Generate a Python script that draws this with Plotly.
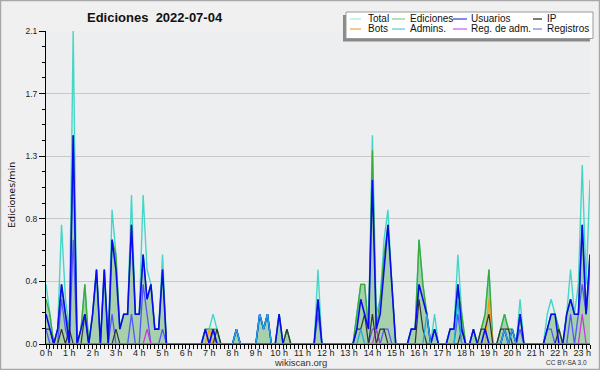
import plotly.graph_objects as go

# 10-minute slots (hours) from 00:00 to 23:20
slots = [i / 6 for i in range(141)]

total = [0.4, 0.2, 0, 0.1, 0.8, 0.3, 0.1, 2.1, 0, 0.1,
         0.4, 0, 0.2, 0.5, 0, 0.5, 0, 0.9, 0.6, 0.1,
         0.2, 0.2, 1.0, 0.2, 0.2, 1.0, 0.5, 0.4, 0.1, 0.1,
         0.6, 0, 0, 0, 0, 0, 0, 0, 0, 0,
         0, 0.1, 0.1, 0.2, 0.1, 0, 0, 0, 0, 0.1,
         0, 0, 0, 0, 0, 0.2, 0.1, 0.2, 0, 0,
         0.2, 0, 0.1, 0, 0, 0, 0, 0, 0, 0,
         0.5, 0, 0, 0, 0, 0, 0, 0, 0, 0,
         0.2, 0.4, 0.4, 0.1, 1.4, 0.2, 0.3, 0.7, 0.9, 0.4,
         0, 0, 0, 0, 0.1, 0.1, 0.7, 0.4, 0.2, 0,
         0.2, 0, 0, 0, 0.1, 0.1, 0.6, 0.2, 0, 0,
         0.1, 0, 0.1, 0.2, 0.5, 0, 0, 0.1, 0.2, 0.1,
         0.1, 0, 0.3, 0, 0, 0, 0, 0, 0, 0.2,
         0.3, 0.2, 0.1, 0, 0.2, 0.5, 0.2, 0.4, 1.2, 0.4, 1.1]

ediciones = [0.3, 0.2, 0, 0.1, 0.4, 0.2, 0.1, 1.4, 0, 0.1,
             0.4, 0, 0.2, 0.5, 0, 0.5, 0, 0.7, 0.6, 0.1,
             0.2, 0.2, 0.8, 0.2, 0.2, 0.6, 0.3, 0.4, 0.1, 0.1,
             0.5, 0, 0, 0, 0, 0, 0, 0, 0, 0,
             0, 0.1, 0.1, 0.1, 0.1, 0, 0, 0, 0, 0.1,
             0, 0, 0, 0, 0, 0.2, 0.1, 0.2, 0, 0,
             0.2, 0, 0.1, 0, 0, 0, 0, 0, 0, 0,
             0.3, 0, 0, 0, 0, 0, 0, 0, 0, 0,
             0.2, 0.4, 0.4, 0.1, 1.3, 0.1, 0.3, 0.6, 0.8, 0.4,
             0, 0, 0, 0, 0.1, 0.1, 0.7, 0.4, 0.2, 0,
             0.1, 0, 0, 0, 0.1, 0.1, 0.4, 0.2, 0, 0,
             0.1, 0, 0.1, 0.2, 0.5, 0, 0, 0.1, 0.2, 0.1,
             0.1, 0, 0.2, 0, 0, 0, 0, 0, 0, 0.1,
             0.2, 0.2, 0.1, 0, 0.2, 0.3, 0.2, 0.2, 0.8, 0.2, 0.6]

usuarios = [0.2, 0.1, 0, 0.1, 0.4, 0.2, 0, 1.4, 0, 0.1,
            0.2, 0, 0.2, 0.5, 0, 0.5, 0, 0.7, 0.5, 0.1,
            0.2, 0.2, 0.8, 0.2, 0.2, 0.6, 0.3, 0.4, 0.1, 0.1,
            0.5, 0, 0, 0, 0, 0, 0, 0, 0, 0,
            0, 0.1, 0, 0.1, 0, 0, 0, 0, 0, 0.1,
            0, 0, 0, 0, 0, 0.2, 0.1, 0.2, 0, 0,
            0.2, 0, 0, 0, 0, 0, 0, 0, 0, 0,
            0.3, 0, 0, 0, 0, 0, 0, 0, 0, 0,
            0.1, 0.3, 0.2, 0.1, 1.1, 0.1, 0.2, 0.5, 0.8, 0.4,
            0, 0, 0, 0, 0.1, 0.1, 0.4, 0.3, 0.2, 0,
            0.1, 0, 0, 0, 0.1, 0.1, 0.4, 0.1, 0, 0,
            0.1, 0, 0, 0.1, 0, 0, 0, 0, 0.1, 0,
            0.1, 0, 0.2, 0, 0, 0, 0, 0, 0, 0.1,
            0.2, 0.2, 0, 0, 0.2, 0.3, 0.2, 0.2, 0.8, 0.2, 0.6]

ip = [0.1, 0.1, 0, 0, 0.1, 0, 0.1, 0, 0, 0,
      0.2, 0, 0, 0, 0, 0, 0, 0, 0.1, 0,
      0, 0, 0, 0, 0, 0, 0, 0, 0, 0,
      0, 0, 0, 0, 0, 0, 0, 0, 0, 0,
      0, 0, 0, 0, 0.1, 0, 0, 0, 0, 0,
      0, 0, 0, 0, 0, 0, 0, 0, 0, 0,
      0, 0, 0.1, 0, 0, 0, 0, 0, 0, 0,
      0, 0, 0, 0, 0, 0, 0, 0, 0, 0,
      0.1, 0.1, 0.2, 0, 0.2, 0, 0.1, 0.1, 0, 0,
      0, 0, 0, 0, 0, 0, 0.3, 0.1, 0, 0,
      0, 0, 0, 0, 0, 0, 0, 0.1, 0, 0,
      0, 0, 0.1, 0.1, 0.2, 0, 0, 0.1, 0.1, 0.1,
      0, 0, 0, 0, 0, 0, 0, 0, 0, 0,
      0, 0, 0.1, 0, 0, 0, 0, 0, 0, 0, 0]

registros = [0.1, 0, 0, 0, 0.3, 0.1, 0, 0.7, 0, 0,
             0, 0, 0, 0, 0, 0, 0, 0.2, 0, 0,
             0, 0, 0.2, 0, 0, 0.4, 0.2, 0, 0, 0,
             0.1, 0, 0, 0, 0, 0, 0, 0, 0, 0,
             0, 0, 0, 0.1, 0, 0, 0, 0, 0, 0,
             0, 0, 0, 0, 0, 0, 0, 0, 0, 0,
             0, 0, 0, 0, 0, 0, 0, 0, 0, 0,
             0.2, 0, 0, 0, 0, 0, 0, 0, 0, 0,
             0, 0, 0, 0, 0.1, 0.1, 0, 0.1, 0.1, 0,
             0, 0, 0, 0, 0, 0, 0, 0, 0, 0,
             0.1, 0, 0, 0, 0, 0, 0.2, 0, 0, 0,
             0, 0, 0, 0, 0, 0, 0, 0, 0, 0,
             0, 0, 0.1, 0, 0, 0, 0, 0, 0, 0.1,
             0.1, 0, 0, 0, 0, 0.2, 0, 0.2, 0.4, 0.2, 0.5]

admins = [0] * 49 + [0.1, 0, 0, 0, 0, 0, 0.2, 0.1, 0.2] + [0] * 23 + [0.1] + [0] * 16 + \
         [0.2] + [0] * 7 + [0.3] + [0] * 11 + [0.1, 0, 0.1] + [0] * 20
bots = [0] * 42 + [0.1] + [0] * 71 + [0.3] + [0] * 26
reg_adm = [0] * 26 + [0.1] + [0] * 58 + [0.1] + [0] * 52 + [0.2, 0, 0]

hour_vals = list(range(24))
hour_text = [f"{h} h" for h in hour_vals]
y_vals = [0, 0.42, 0.84, 1.26, 1.68, 2.1]
y_text = ["0.0", "0.4", "0.8", "1.3", "1.7", "2.1"]

C_TOTAL = "#45d6c8"
C_EDI = "#3aaa3a"
C_USR = "#0a0aee"
C_IP = "#333333"
C_BOT = "#ff9a10"
C_ADM = "#22aadd"
C_RADM = "#cc33dd"
C_REG = "#5555ff"

fig = go.Figure()
fig.add_trace(go.Scatter(x=slots, y=total, mode="lines", line=dict(color=C_TOTAL, width=1.4), name="Total"))
fig.add_trace(go.Scatter(x=slots, y=ediciones, mode="lines", fill="tozeroy",
                         fillcolor="rgba(80,170,85,0.44)", line=dict(color=C_EDI, width=1.3), name="Ediciones"))
fig.add_trace(go.Scatter(x=slots, y=registros, mode="lines", line=dict(color=C_REG, width=1.3), name="Registros"))
fig.add_trace(go.Scatter(x=slots, y=reg_adm, mode="lines", line=dict(color=C_RADM, width=1.2), name="Reg. de adm."))
fig.add_trace(go.Scatter(x=slots, y=bots, mode="lines", line=dict(color=C_BOT, width=1.3), name="Bots"))
fig.add_trace(go.Scatter(x=slots, y=ip, mode="lines", line=dict(color=C_IP, width=1.2), name="IP"))
fig.add_trace(go.Scatter(x=slots, y=usuarios, mode="lines", line=dict(color=C_USR, width=1.6), name="Usuarios"))
fig.add_trace(go.Scatter(x=slots, y=admins, mode="lines", line=dict(color=C_ADM, width=1.3), name="Admins."))

L, R, T, B = 46, 590, 31, 344
W = R - L
H = B - T


def px(x):
    return (x - L) / W


def py(y):
    return (B - y) / H


shapes = []
annotations = []

# outer border
shapes.append(dict(type="rect", xref="paper", yref="paper", x0=px(0.5), x1=px(599.5), y0=py(369.5), y1=py(0.5),
                   line=dict(color="#a8a8a8", width=1.5), fillcolor="rgba(0,0,0,0)", layer="above"))

# legend box with shadow
shapes.append(dict(type="rect", xref="paper", yref="paper", x0=px(343), x1=px(590), y0=py(41.5), y1=py(15),
                   line=dict(width=0), fillcolor="#8a8a8a", layer="above"))
shapes.append(dict(type="rect", xref="paper", yref="paper", x0=px(346), x1=px(593), y0=py(38.5), y1=py(12),
                   line=dict(color="#9a9a9a", width=1), fillcolor="#ffffff", layer="above"))

legend_items = [
    ("Total", "#a6e6de", 350, 361, 366, 19),
    ("Ediciones", "#86cc86", 392, 405, 408, 19),
    ("Usuarios", "#3a3ae0", 453, 467, 469, 19),
    ("IP", "#222222", 533, 542, 545, 19),
    ("Bots", "#f4a444", 350, 361, 366, 29),
    ("Admins.", "#55c8e0", 392, 405, 408, 29),
    ("Reg. de adm.", "#d055e0", 453, 467, 469, 29),
    ("Registros", "#7a7af0", 533, 542, 545, 29),
]
for label, col, lx0, lx1, tx, ty in legend_items:
    shapes.append(dict(type="line", xref="paper", yref="paper", x0=px(lx0), x1=px(lx1), y0=py(ty), y1=py(ty),
                       line=dict(color=col, width=1.2), layer="above"))
    annotations.append(dict(xref="paper", yref="paper", x=px(tx), y=py(ty), text=label, showarrow=False,
                            xanchor="left", yanchor="middle", font=dict(family="Liberation Sans", size=10, color="#111")))

annotations.append(dict(xref="paper", yref="paper", x=px(85), y=py(17), text="<b>Ediciones&nbsp;&nbsp;2022-07-04</b>",
                        showarrow=False, xanchor="left", yanchor="middle",
                        font=dict(family="Liberation Sans", size=13, color="#111")))
annotations.append(dict(xref="paper", yref="paper", x=px(12), y=py(195), text="Ediciones/min", textangle=-90,
                        showarrow=False, xanchor="center", yanchor="middle",
                        font=dict(family="DejaVu Sans", size=9.5, color="#111")))
annotations.append(dict(xref="paper", yref="paper", x=px(300), y=py(362), text="wikiscan.org",
                        showarrow=False, xanchor="center", yanchor="middle",
                        font=dict(family="Liberation Sans", size=9.5, color="#333")))
annotations.append(dict(xref="paper", yref="paper", x=px(589), y=py(362), text="CC BY-SA 3.0",
                        showarrow=False, xanchor="right", yanchor="middle",
                        font=dict(family="Liberation Sans", size=6.5, color="#333")))

fig.update_layout(
    width=600, height=370,
    margin=dict(l=L, r=600 - R, t=T, b=370 - B),
    paper_bgcolor="#f0f0f0",
    plot_bgcolor="#eceef0",
    showlegend=False,
    shapes=shapes,
    annotations=annotations,
)

fig.update_xaxes(range=[0, slots[-1]], tickvals=hour_vals, ticktext=hour_text,
                 ticks="outside", ticklen=4, tickcolor="#000", tickwidth=1, ticklabelstandoff=-4,
                 showline=True, linecolor="#000", linewidth=1, showgrid=False, zeroline=False,
                 minor=dict(dtick=1 / 6, ticks="outside", ticklen=4, tickcolor="#000", tickwidth=1, showgrid=False),
                 tickfont=dict(family="Liberation Sans", size=9, color="#222"))
fig.update_yaxes(range=[0, 2.1], tickvals=y_vals, ticktext=y_text,
                 ticks="outside", ticklen=6, tickcolor="#000", tickwidth=1,
                 showline=True, linecolor="#000", linewidth=1, showgrid=True, gridcolor="#c8c8c8", zeroline=False,
                 minor=dict(dtick=0.105, tick0=0, ticks="outside", ticklen=3, tickcolor="#000", tickwidth=1, showgrid=False),
                 tickfont=dict(family="Liberation Sans", size=8.5, color="#222"))

fig.write_html("out.html", config={"displayModeBar": False},
               post_script="document.body.style.margin='0';document.body.style.overflow='hidden';")
